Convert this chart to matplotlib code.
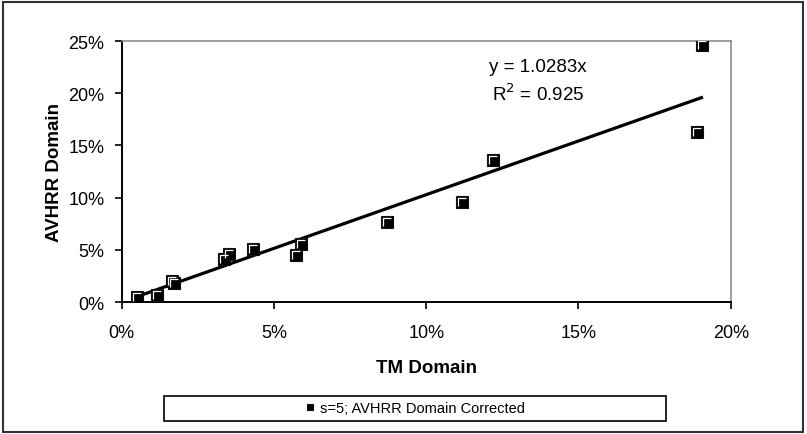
import numpy as np
import matplotlib
matplotlib.use("Agg")
import matplotlib.pyplot as plt
from matplotlib.patches import Rectangle
from matplotlib.path import Path
from matplotlib.ticker import PercentFormatter, MultipleLocator

plt.rcParams["font.family"] = ["Liberation Sans", "DejaVu Sans"]

# fraction of area, TM vs AVHRR (s=5, corrected)
tm_domain = [0.0050, 0.0115, 0.0165, 0.0172, 0.0336, 0.0352, 0.0432,
             0.0572, 0.0590, 0.0872, 0.1118, 0.1220, 0.1888, 0.1904]
avhrr_domain = [0.0052, 0.0072, 0.0200, 0.0180, 0.0412, 0.0460, 0.0510,
                0.0448, 0.0560, 0.0769, 0.0955, 0.1363, 0.1625, 0.2462]
slope = 1.0283
r_squared = 0.925
series_label = "s=5; AVHRR Domain Corrected"

# white highlight along the top and left edge of each square marker
corner = Path([(-0.5, -0.5), (-0.5, 0.5), (0.5, 0.5)])

fig = plt.figure(figsize=(8.07, 4.35), dpi=100)
ax = fig.add_axes([0.1508, 0.3034, 0.7547, 0.6])

# outer chart frame
fig.patches.append(Rectangle((3 / 807, 2 / 435), 800 / 807, 430 / 435,
                             transform=fig.transFigure, fill=False,
                             edgecolor="#333333", linewidth=1.5))

x = np.array(tm_domain)
y = np.array(avhrr_domain)
xfit = np.array([x.min(), x.max()])
ax.plot(xfit, slope * xfit, color="black", linewidth=2.3, zorder=2)

pts, = ax.plot(x, y, linestyle="none", marker="s", markersize=8.8,
               markerfacecolor="black", markeredgecolor="#111111",
               markeredgewidth=0.8, zorder=3)
ax.plot(x, y, linestyle="none", marker=corner, markersize=6.3,
        markerfacecolor="none", markeredgecolor="white",
        markeredgewidth=0.9, zorder=4)

ax.set_xlim(0, 0.20)
ax.set_ylim(0, 0.25)
ax.xaxis.set_major_locator(MultipleLocator(0.05))
ax.yaxis.set_major_locator(MultipleLocator(0.05))
ax.xaxis.set_major_formatter(PercentFormatter(1.0, decimals=0))
ax.yaxis.set_major_formatter(PercentFormatter(1.0, decimals=0))
ax.tick_params(direction="out", length=5, width=1.2, labelsize=13)
ax.tick_params(axis="x", pad=10.5)
ax.tick_params(axis="y", pad=7.5)

for side in ("top", "right"):
    ax.spines[side].set_color("#8c8c8c")
    ax.spines[side].set_linewidth(1.2)
for side in ("left", "bottom"):
    ax.spines[side].set_color("black")
    ax.spines[side].set_linewidth(1.4)

ax.set_xlabel("TM Domain", fontsize=13.5, fontweight="bold")
ax.set_ylabel("AVHRR Domain", fontsize=13.5, fontweight="bold")
ax.xaxis.set_label_coords(0.5, -0.22)
ax.yaxis.set_label_coords(-0.096, 0.5)

ax.text(0.1366, 0.226, f"y = {slope}x", ha="center", va="center", fontsize=13.5)
ax.text(0.1366, 0.200, f"R$^2$ = {r_squared}", ha="center", va="center", fontsize=13.5)

# legend frame spans a fixed band under the axis title, entry centred inside
fig.patches.append(Rectangle((164 / 807, 1 - 422 / 435), 502 / 807, 25 / 435,
                             transform=fig.transFigure, fill=False,
                             edgecolor="black", linewidth=1.2))
fig.legend(handles=[pts], labels=[series_label], loc="center",
           bbox_to_anchor=(415 / 807, 1 - 409.5 / 435), frameon=False,
           fontsize=10.5, handlelength=0.6, handletextpad=0.4,
           borderpad=0.0, markerscale=0.55)

fig.savefig("out.png", dpi=100)
